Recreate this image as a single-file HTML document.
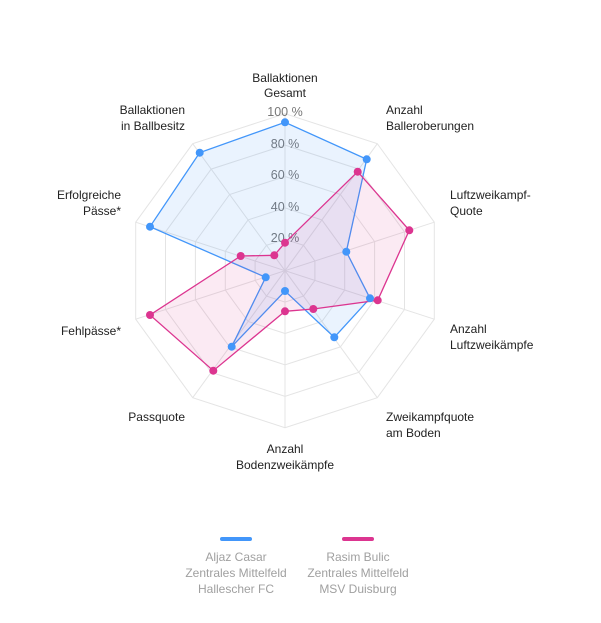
<!DOCTYPE html>
<html><head><meta charset="utf-8"><style>
body{margin:0;background:#fff;width:601px;height:618px;overflow:hidden}
svg{font-family:"Liberation Sans",sans-serif}
</style></head><body>
<svg width="601" height="618" viewBox="0 0 601 618">
<g stroke="#e4e4e4" stroke-width="1" fill="none">
<polygon points="285,113.7 377.3,143.7 434.3,222.2 434.3,319.2 377.3,397.7 285,427.7 192.7,397.7 135.7,319.2 135.7,222.2 192.7,143.7"/>
<polygon points="285,145.1 358.8,169.1 404.5,231.9 404.5,309.5 358.8,372.3 285,396.3 211.2,372.3 165.5,309.5 165.5,231.9 211.2,169.1"/>
<polygon points="285,176.5 340.4,194.5 374.6,241.6 374.6,299.8 340.4,346.9 285,364.9 229.6,346.9 195.4,299.8 195.4,241.6 229.6,194.5"/>
<polygon points="285,207.9 321.9,219.9 344.7,251.3 344.7,290.1 321.9,321.5 285,333.5 248.1,321.5 225.3,290.1 225.3,251.3 248.1,219.9"/>
<polygon points="285,239.3 303.5,245.3 314.9,261 314.9,280.4 303.5,296.1 285,302.1 266.5,296.1 255.1,280.4 255.1,261 266.5,245.3"/>
<line x1="285" y1="270.7" x2="285" y2="113.7"/><line x1="285" y1="270.7" x2="377.3" y2="143.7"/><line x1="285" y1="270.7" x2="434.3" y2="222.2"/><line x1="285" y1="270.7" x2="434.3" y2="319.2"/><line x1="285" y1="270.7" x2="377.3" y2="397.7"/><line x1="285" y1="270.7" x2="285" y2="427.7"/><line x1="285" y1="270.7" x2="192.7" y2="397.7"/><line x1="285" y1="270.7" x2="135.7" y2="319.2"/><line x1="285" y1="270.7" x2="135.7" y2="222.2"/><line x1="285" y1="270.7" x2="192.7" y2="143.7"/>
</g>
<g font-size="12.5" fill="#777" text-anchor="middle">
<text x="285" y="116">100 %</text><text x="285" y="148">80 %</text><text x="285" y="179">60 %</text><text x="285" y="211">40 %</text><text x="285" y="242">20 %</text>
</g>
<polygon points="285,122.3 366.7,159.3 346.3,251.7 370,298.3 334.3,337.3 285,291 231.7,346.7 265.7,277.3 150,226.7 199.7,152.7" fill="rgba(66,150,250,0.11)" stroke="#4296fa" stroke-width="1.3"/>
<polygon points="285,242.7 357.7,171.7 409.3,230.3 377.7,300.3 313.3,309 285,311.3 213.3,370.7 150,315 240.7,256 274.3,255.3" fill="rgba(220,50,140,0.10)" stroke="#dc3590" stroke-width="1.3"/>
<g fill="#4296fa">
<circle cx="285" cy="122.3" r="4"/><circle cx="366.7" cy="159.3" r="4"/><circle cx="346.3" cy="251.7" r="4"/><circle cx="370" cy="298.3" r="4"/><circle cx="334.3" cy="337.3" r="4"/><circle cx="285" cy="291" r="4"/><circle cx="231.7" cy="346.7" r="4"/><circle cx="265.7" cy="277.3" r="4"/><circle cx="150" cy="226.7" r="4"/><circle cx="199.7" cy="152.7" r="4"/>
</g>
<g fill="#dc3590">
<circle cx="285" cy="242.7" r="4"/><circle cx="357.7" cy="171.7" r="4"/><circle cx="409.3" cy="230.3" r="4"/><circle cx="377.7" cy="300.3" r="4"/><circle cx="313.3" cy="309" r="4"/><circle cx="285" cy="311.3" r="4"/><circle cx="213.3" cy="370.7" r="4"/><circle cx="150" cy="315" r="4"/><circle cx="240.7" cy="256" r="4"/><circle cx="274.3" cy="255.3" r="4"/>
</g>
<g font-size="12" fill="#222">
<text x="285" y="82" text-anchor="middle">Ballaktionen</text><text x="285" y="97" text-anchor="middle">Gesamt</text>
<text x="386" y="114">Anzahl</text><text x="386" y="130">Balleroberungen</text>
<text x="450" y="199">Luftzweikampf-</text><text x="450" y="215">Quote</text>
<text x="450" y="333">Anzahl</text><text x="450" y="349">Luftzweikämpfe</text>
<text x="386" y="421">Zweikampfquote</text><text x="386" y="437">am Boden</text>
<text x="285" y="453" text-anchor="middle">Anzahl</text><text x="285" y="469" text-anchor="middle">Bodenzweikämpfe</text>
<text x="185" y="421" text-anchor="end">Passquote</text>
<text x="121" y="335" text-anchor="end">Fehlpässe*</text>
<text x="121" y="199" text-anchor="end">Erfolgreiche</text><text x="121" y="215" text-anchor="end">Pässe*</text>
<text x="185" y="114" text-anchor="end">Ballaktionen</text><text x="185" y="130" text-anchor="end">in Ballbesitz</text>
</g>
<rect x="220" y="537" width="32" height="4" rx="2" fill="#4296fa"/>
<rect x="342" y="537" width="32" height="4" rx="2" fill="#dc3590"/>
<g font-size="12" fill="#a0a0a0" text-anchor="middle">
<text x="236" y="561">Aljaz Casar</text><text x="236" y="577">Zentrales Mittelfeld</text><text x="236" y="593">Hallescher FC</text>
<text x="358" y="561">Rasim Bulic</text><text x="358" y="577">Zentrales Mittelfeld</text><text x="358" y="593">MSV Duisburg</text>
</g>
</svg>
</body></html>
